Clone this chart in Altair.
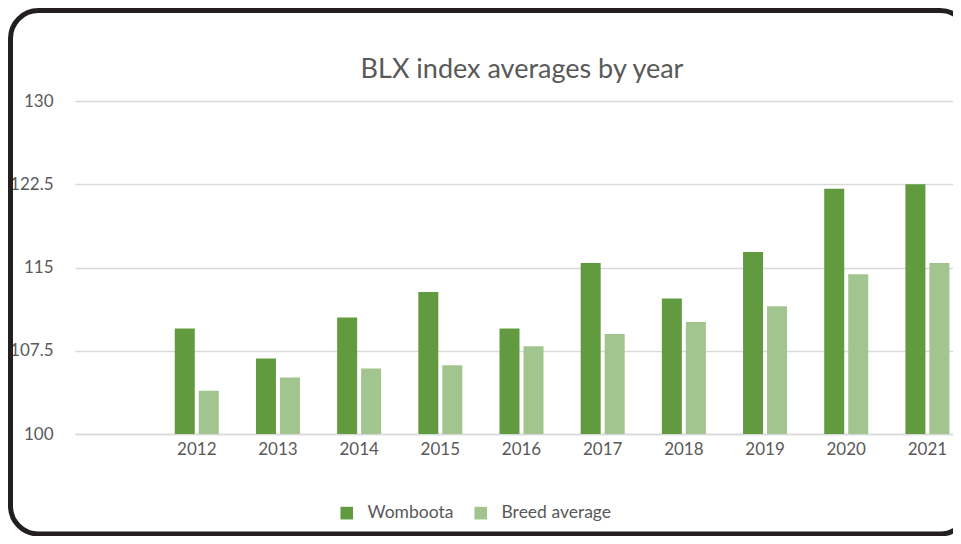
import altair as alt
import pandas as pd

years = ["2012", "2013", "2014", "2015", "2016", "2017", "2018", "2019", "2020", "2021"]
womboota = [109.5, 106.8, 110.5, 112.8, 109.5, 115.4, 112.2, 116.4, 122.1, 122.5]
breed_avg = [103.9, 105.1, 105.9, 106.2, 107.9, 109.0, 110.1, 111.5, 114.4, 115.4]
series_names = ["Womboota", "Breed average"]
colors = ["#629B3F", "#A2C48E"]
y_ticks = [100, 107.5, 115, 122.5, 130]
x_domain = [" "] + years
title_text = "BLX index averages by year"

rows = []
for y, w, b in zip(years, womboota, breed_avg):
    rows.append({"year": y, "series": series_names[0], "value": w})
    rows.append({"year": y, "series": series_names[1], "value": b})
df = pd.DataFrame(rows)

FONT = "Lato"
TXT = "#595959"
GRID = "#D9D9D9"

bars = alt.Chart(df).mark_bar().encode(
    x=alt.X("year:N",
            scale=alt.Scale(domain=x_domain, range=[0, 893],
                            paddingInner=0.458, paddingOuter=0.229),
            axis=alt.Axis(title=None, labelAngle=0, ticks=False,
                          domainColor=GRID, domainWidth=1.5,
                          labelColor=TXT, labelFont=FONT, labelFontSize=17,
                          labelPadding=7)),
    xOffset=alt.XOffset("series:N",
                        scale=alt.Scale(domain=series_names,
                                        paddingInner=0.1667, paddingOuter=0),
                        sort=series_names),
    y=alt.Y("value:Q",
            scale=alt.Scale(domain=[100, 130], zero=False, nice=False),
            axis=alt.Axis(title=None, values=y_ticks, format=".1~f",
                          domain=False, ticks=False,
                          gridColor=GRID, gridWidth=1.5,
                          labelColor=TXT, labelFont=FONT, labelFontSize=17,
                          labelPadding=22)),
    y2=alt.datum(100),
    color=alt.Color("series:N",
                    scale=alt.Scale(domain=series_names, range=colors),
                    sort=series_names,
                    legend=alt.Legend(title=None, orient="none",
                                      direction="horizontal",
                                      legendX=263, legendY=403,
                                      symbolType="square", symbolSize=160,
                                      symbolStrokeWidth=0,
                                      labelFont=FONT, labelFontSize=17.5,
                                      labelColor=TXT, labelOffset=12,
                                      columnPadding=18, padding=0)),
)

one = pd.DataFrame({"t": [title_text]})

frame = alt.Chart(one).mark_rect(
    fill=None, stroke="#231F20", strokeWidth=5, cornerRadius=28
).encode(
    x=alt.value(-64.5), x2=alt.value(893),
    y=alt.value(-90.5), y2=alt.value(433)
)

title = alt.Chart(one).mark_text(
    font=FONT, fontSize=27, color=TXT, align="center", baseline="alphabetic"
).encode(
    text="t:N", x=alt.value(447), y=alt.value(-23)
)

chart = alt.layer(bars, frame, title).properties(
    width=878, height=333,
    autosize=alt.AutoSizeParams(type="none"),
    padding={"left": 67, "top": 93, "right": 0, "bottom": 102},
).configure_view(stroke=None)

chart.save("out.html", embed_options={"renderer": "svg", "actions": False})
